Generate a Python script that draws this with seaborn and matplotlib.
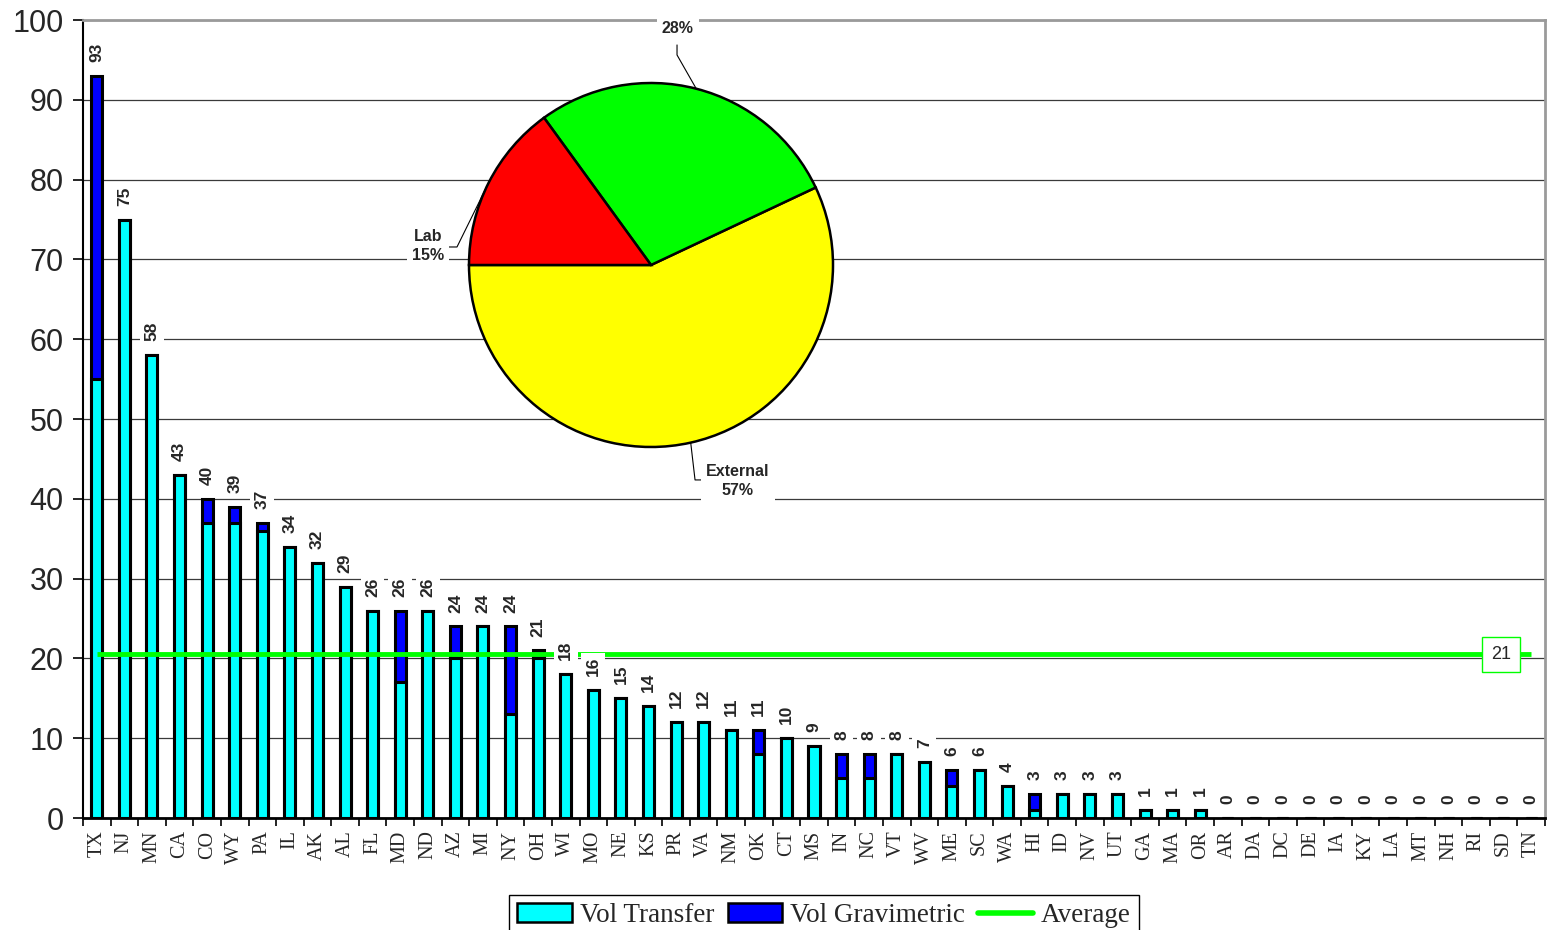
import numpy as np
import pandas as pd
import matplotlib
matplotlib.use("Agg")
import matplotlib.pyplot as plt
import seaborn as sns
from matplotlib.patches import Patch
from matplotlib.lines import Line2D

# ---------------- data ----------------
states = ["TX", "NJ", "MN", "CA", "CO", "WY", "PA", "IL", "AK", "AL", "FL", "MD", "ND",
          "AZ", "MI", "NY", "OH", "WI", "MO", "NE", "KS", "PR", "VA", "NM", "OK", "CT",
          "MS", "IN", "NC", "VT", "WV", "ME", "SC", "WA", "HI", "ID", "NV", "UT", "GA",
          "MA", "OR", "AR", "DA", "DC", "DE", "IA", "KY", "LA", "MT", "NH", "RI", "SD", "TN"]
vol_transfer = [55, 75, 58, 43, 37, 37, 36, 34, 32, 29, 26, 17, 26,
                20, 24, 13, 20, 18, 16, 15, 14, 12, 12, 11, 8, 10,
                9, 5, 5, 8, 7, 4, 6, 4, 1, 3, 3, 3, 1,
                1, 1, 0, 0, 0, 0, 0, 0, 0, 0, 0, 0, 0, 0]
vol_gravimetric = [38, 0, 0, 0, 3, 2, 1, 0, 0, 0, 0, 9, 0,
                   4, 0, 11, 1, 0, 0, 0, 0, 0, 0, 0, 3, 0,
                   0, 3, 3, 0, 0, 2, 0, 0, 2, 0, 0, 0, 0,
                   0, 0, 0, 0, 0, 0, 0, 0, 0, 0, 0, 0, 0, 0]

pie_labels = ["External", "", "Lab"]
pie_values = [57, 28, 15]
pie_colors = ["#FFFF00", "#00FF00", "#FF0000"]

CYAN = "#00FFFF"
BLUE = "#0000FF"
GREEN = "#00FF00"

totals = [t + g for t, g in zip(vol_transfer, vol_gravimetric)]
nonzero = [v for v in totals if v > 0]
average = sum(nonzero) / len(nonzero)
n = len(states)

# ---------------- style ----------------
sns.set_style("white")
plt.rcParams["font.family"] = ["Liberation Sans", "DejaVu Sans"]

W, H = 1554, 930
fig = plt.figure(figsize=(W / 100, H / 100), dpi=100)
ax = fig.add_axes([83 / W, 1 - 818 / H, (1545 - 83) / W, (818 - 20) / H])

df = pd.DataFrame({"state": states, "total": totals, "transfer": vol_transfer})
sns.barplot(data=df, x="state", y="total", color=BLUE, saturation=1, width=0.4,
            edgecolor="black", linewidth=2.2, errorbar=None, ax=ax, zorder=3)
sns.barplot(data=df, x="state", y="transfer", color=CYAN, saturation=1, width=0.4,
            edgecolor="black", linewidth=2.2, errorbar=None, ax=ax, zorder=3)

# average line
ax.plot(np.arange(n), [average] * n, color=GREEN, lw=3.5, zorder=4,
        solid_capstyle="butt")
ax.text(n - 2.1, average, f"{average:.0f}", ha="center", va="center", fontsize=13,
        zorder=7, bbox=dict(boxstyle="square,pad=0.5", fc="white", ec=GREEN, lw=1))

# value labels
for i, v in enumerate(totals):
    ax.annotate(f"{v}", (i, v), xytext=(0, 10), textcoords="offset points",
                rotation=90, ha="center", va="bottom", fontsize=12.5,
                fontweight="bold", zorder=6, annotation_clip=False,
                bbox=dict(boxstyle="square,pad=0.25", fc="white", ec="none"))

ax.set_xlim(-0.5, n - 0.5)
ax.set_ylim(0, 100)
ax.set_yticks(np.arange(0, 101, 10))
ax.yaxis.grid(True, color="#3a3a3a", lw=0.9)
ax.xaxis.grid(False)
ax.set_axisbelow(True)
ax.set_xlabel("")
ax.set_ylabel("")

ax.tick_params(axis="y", left=True, length=7, width=1.2, color="black",
               labelsize=22, pad=7)
ax.tick_params(axis="x", which="major", bottom=True, length=0, pad=9,
               labelrotation=90, labelsize=14.5)
ax.set_xticks(np.arange(-0.5, n, 1), minor=True)
ax.tick_params(axis="x", which="minor", bottom=True, length=6, width=1.2,
               color="black")
for lab in ax.get_xticklabels():
    lab.set_fontfamily(["Liberation Serif", "DejaVu Serif"])

for side in ("left", "bottom"):
    ax.spines[side].set_color("black")
ax.spines["left"].set_linewidth(1.5)
ax.spines["bottom"].set_linewidth(2)
for side in ("top", "right"):
    ax.spines[side].set_color("#9a9a9a")
    ax.spines[side].set_linewidth(2)

# ---------------- pie inset ----------------
cx, cy, r = 651, 265, 182
pax = fig.add_axes([(cx - r) / W, 1 - (cy + r) / H, 2 * r / W, 2 * r / H])
pax.pie(pie_values, colors=pie_colors, startangle=180, counterclock=True,
        wedgeprops=dict(edgecolor="black", linewidth=1.8))
pax.set_xlim(-1, 1)
pax.set_ylim(-1, 1)
pax.axis("off")

tot_pie = sum(pie_values)
starts = 180 + np.cumsum([0] + pie_values[:-1]) / tot_pie * 360
mids = np.deg2rad(starts + np.array(pie_values) / tot_pie * 180)
label_txt = [f"{lab}\n{v}%" if lab else f"{v}%" for lab, v in zip(pie_labels, pie_values)]
# text centres and leader elbows (pie-radius units)
text_pos = [(0.478, -1.187), (0.148, 1.302), (-1.225, 0.104)]
elbows = [[(0.242, -1.181), (0.297, -1.181)],
          [(0.143, 1.154), (0.143, 1.209)],
          [(-1.066, 0.099), (-1.121, 0.099)]]
for k in range(len(pie_values)):
    ex, ey = np.cos(mids[k]), np.sin(mids[k])
    xs = [ex] + [p[0] for p in elbows[k]]
    ys = [ey] + [p[1] for p in elbows[k]]
    pax.plot(xs, ys, color="black", lw=0.8, clip_on=False, zorder=5)
    pax.text(text_pos[k][0], text_pos[k][1], label_txt[k], ha="center", va="center",
             fontsize=11.5, fontweight="bold", linespacing=1.35, zorder=6,
             clip_on=False,
             bbox=dict(boxstyle="square,pad=0.3", fc="white", ec="none"))

# ---------------- legend ----------------
handles = [Patch(fc=CYAN, ec="black", lw=1.8, label="Vol Transfer"),
           Patch(fc=BLUE, ec="black", lw=1.8, label="Vol Gravimetric"),
           Line2D([0], [0], color=GREEN, lw=4, label="Average")]
leg = fig.legend(handles=handles, loc="upper center",
                 bbox_to_anchor=(824 / W, 1 - 895 / H), ncol=3, frameon=True,
                 fancybox=False, edgecolor="black", framealpha=1,
                 prop={"family": ["Liberation Serif", "DejaVu Serif"], "size": 19.5},
                 handlelength=2.0, handleheight=0.7, handletextpad=0.3,
                 columnspacing=0.5, borderpad=0.3, borderaxespad=0)
leg.get_frame().set_linewidth(1)

fig.savefig("out.png", dpi=100)
